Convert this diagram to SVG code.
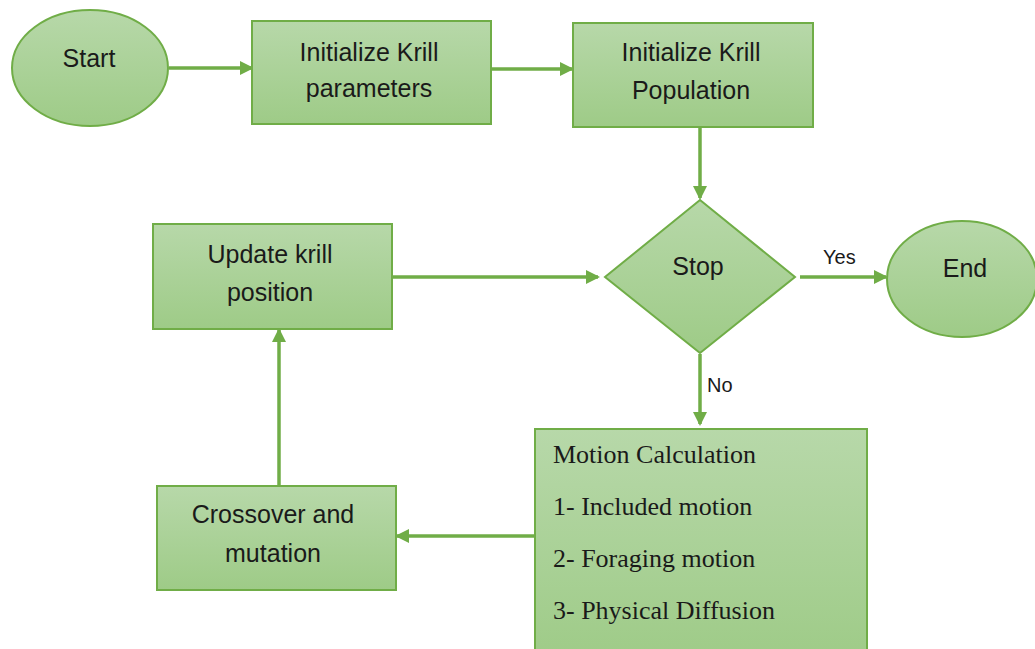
<svg xmlns="http://www.w3.org/2000/svg" width="1035" height="649" viewBox="0 0 1035 649">
  <defs>
    <linearGradient id="g" x1="0" y1="0" x2="0" y2="1">
      <stop offset="0" stop-color="#b7d8a9"/>
      <stop offset="1" stop-color="#9ecb87"/>
    </linearGradient>
    <marker id="ah" markerWidth="14" markerHeight="14" refX="12" refY="7" orient="auto" markerUnits="userSpaceOnUse">
      <path d="M0,0 L14,7 L0,14 Z" fill="#70ad47"/>
    </marker>
    <style>
      .shape { fill: url(#g); stroke: #70ad47; stroke-width: 2; }
      .lbl { font-family: "Liberation Sans", Arial, sans-serif; font-size: 25px; fill: #1a1a1a; text-anchor: middle; }
      .small { font-family: "Liberation Sans", Arial, sans-serif; font-size: 20px; fill: #1a1a1a; }
      .serif { font-family: "Liberation Serif", "Times New Roman", serif; font-size: 26px; fill: #1a1a1a; }
      .conn { stroke: #70ad47; stroke-width: 3.5; fill: none; marker-end: url(#ah); }
    </style>
  </defs>

  <g id="connectors">
    <line class="conn" x1="169" y1="68" x2="252" y2="68"/>
    <line class="conn" x1="487" y1="69" x2="572" y2="69"/>
    <line class="conn" x1="700" y1="128" x2="700" y2="198"/>
    <line class="conn" x1="392" y1="277" x2="598" y2="277"/>
    <line class="conn" x1="800" y1="277" x2="886" y2="277"/>
    <line class="conn" x1="700" y1="354" x2="700" y2="424"/>
    <line class="conn" x1="535" y1="536" x2="397" y2="536"/>
    <line class="conn" x1="279" y1="486" x2="279" y2="330"/>
    <text class="small" x="823" y="264">Yes</text>
    <text class="small" x="707" y="392">No</text>
  </g>

  <g id="start">
    <ellipse class="shape" cx="90" cy="68" rx="78" ry="58"/>
    <text class="lbl" x="89" y="67">Start</text>
  </g>

  <g id="init-params">
    <rect class="shape" x="252" y="21" width="239" height="103"/>
    <text class="lbl" x="369" y="61">Initialize Krill</text>
    <text class="lbl" x="369" y="97">parameters</text>
  </g>

  <g id="init-pop">
    <rect class="shape" x="573" y="23" width="240" height="104"/>
    <text class="lbl" x="691" y="61">Initialize Krill</text>
    <text class="lbl" x="691" y="99">Population</text>
  </g>

  <g id="stop">
    <polygon class="shape" points="700,200 795,277 700,353 605,277"/>
    <text class="lbl" x="698" y="275">Stop</text>
  </g>

  <g id="end">
    <ellipse class="shape" cx="962" cy="279" rx="75" ry="58"/>
    <text class="lbl" x="965" y="277">End</text>
  </g>

  <g id="update">
    <rect class="shape" x="153" y="224" width="239" height="105"/>
    <text class="lbl" x="270" y="263">Update krill</text>
    <text class="lbl" x="270" y="301">position</text>
  </g>

  <g id="motion">
    <rect class="shape" x="535" y="429" width="332" height="235"/>
    <text class="serif" x="553" y="463">Motion Calculation</text>
    <text class="serif" x="553" y="515">1- Included motion</text>
    <text class="serif" x="553" y="567">2- Foraging motion</text>
    <text class="serif" x="553" y="619">3- Physical Diffusion</text>
  </g>

  <g id="crossover">
    <rect class="shape" x="157" y="486" width="239" height="104"/>
    <text class="lbl" x="273" y="523">Crossover and</text>
    <text class="lbl" x="273" y="562">mutation</text>
  </g>
</svg>
